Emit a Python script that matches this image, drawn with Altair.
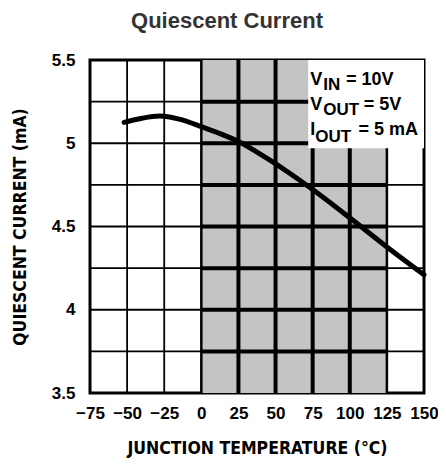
import altair as alt
import pandas as pd

# Curve data
temps = [-52, -40, -28, -15, 0, 12, 25, 43, 60, 75, 100, 125, 150]
currents = [5.125, 5.15, 5.163, 5.145, 5.10, 5.06, 5.01, 4.916, 4.817, 4.722, 4.552, 4.377, 4.21]

x_ticks = [-75, -50, -25, 0, 25, 50, 75, 100, 125, 150]
y_ticks = [3.5, 4.0, 4.5, 5.0, 5.5]
grid_y = [3.75, 4.0, 4.25, 4.5, 4.75, 5.0, 5.25]
shade_range = [0, 125]
note_box = [72, 150, 4.97, 5.5]

# annotation pieces: text, x, y (data units), font size
note_text = ["V", "IN", "= 10V", "V", "OUT", "= 5V", "I", "OUT", "= 5 mA"]
note_x = [73.45, 82.1, 97.4, 73.45, 82.1, 109.4, 73.45, 76.8, 105.9]
note_y = [5.35, 5.32, 5.35, 5.20, 5.17, 5.20, 5.05, 5.007, 5.05]
note_size = [18, 17, 18, 18, 17, 18, 18, 17, 18]

LABEL_FONT = "Liberation Sans, Arial, sans-serif"
TITLE_FONT = "DejaVu Sans Condensed, DejaVu Sans, sans-serif"

xs = alt.Scale(domain=[-75, 150], nice=False, zero=False)
ys = alt.Scale(domain=[3.5, 5.5], nice=False, zero=False)

x_axis = alt.Axis(values=x_ticks, title="JUNCTION TEMPERATURE (°C)",
                  labelPadding=12, titlePadding=18, labelOverlap=False, labelFlush=False)
y_axis = alt.Axis(values=y_ticks, format="~g", title="QUIESCENT CURRENT (mA)",
                  labelPadding=15, titlePadding=22, labelOverlap=False, labelFlush=False)


def X(f):
    return alt.X(f, scale=xs, axis=x_axis)


def Y(f):
    return alt.Y(f, scale=ys, axis=y_axis)


curve_df = pd.DataFrame({"t": temps, "i": currents})

shade_df = pd.DataFrame({"x": [shade_range[0]], "x2": [shade_range[1]], "y": [3.5], "y2": [5.5]})
shade = alt.Chart(shade_df).mark_rect(color="#c4c4c4").encode(
    x=X("x:Q"), x2="x2:Q", y=Y("y:Q"), y2="y2:Q"
)

vlines = pd.DataFrame({
    "x": [-50, -25, 0, 25, 50, 75, 100, 125],
    "w": [1.8, 1.8, 2.5, 4, 4, 4, 4, 2.5],
})
vrules = alt.Chart(vlines).mark_rule(color="black").encode(
    x=X("x:Q"),
    strokeWidth=alt.StrokeWidth("w:Q", scale=None, legend=None),
)

hrows = []
for gy in grid_y:
    hrows.append({"y": gy, "x": -75, "x2": 0, "w": 1.8})
    hrows.append({"y": gy, "x": 0, "x2": 125, "w": 4})
    hrows.append({"y": gy, "x": 125, "x2": 150, "w": 1.8})
hdf = pd.DataFrame(hrows)
hrules = alt.Chart(hdf).mark_rule(color="black").encode(
    y=Y("y:Q"), x=X("x:Q"), x2="x2:Q",
    strokeWidth=alt.StrokeWidth("w:Q", scale=None, legend=None),
)

box_df = pd.DataFrame({"x": [note_box[0]], "x2": [note_box[1]], "y": [note_box[2]], "y2": [note_box[3]]})
box = alt.Chart(box_df).mark_rect(color="white").encode(
    x=X("x:Q"), x2="x2:Q", y=Y("y:Q"), y2="y2:Q"
)

line = alt.Chart(curve_df).mark_line(
    color="black", strokeWidth=5, interpolate="monotone", strokeCap="round"
).encode(x=X("t:Q"), y=Y("i:Q"))

note_df = pd.DataFrame({"text": note_text, "x": note_x, "y": note_y, "s": note_size})
notes = alt.Chart(note_df).mark_text(
    align="left", baseline="alphabetic", font=LABEL_FONT, fontWeight="bold", color="black"
).encode(
    x=X("x:Q"), y=Y("y:Q"), text="text:N",
    size=alt.Size("s:Q", scale=None, legend=None),
)

chart = alt.layer(shade, vrules, hrules, box, line, notes).properties(
    width=334, height=333,
    autosize=alt.AutoSizeParams(type="none"),
    padding={"left": 82, "top": 52, "right": 14, "bottom": 69},
    title=alt.TitleParams("Quiescent Current", font=LABEL_FONT,
                          fontSize=22, fontWeight="bold", color="#333333",
                          anchor="middle", dx=-30, offset=18),
).configure_view(
    stroke="black", strokeWidth=3
).configure_axis(
    labelFont=LABEL_FONT, labelFontSize=17, labelFontWeight="bold", labelColor="black",
    titleFont=TITLE_FONT, titleFontSize=17.5, titleFontWeight="bold", titleColor="black",
    domain=False, ticks=False, grid=False, labelOverlap=False, labelFlush=False,
)

chart.save("out.html", embed_options={"renderer": "svg", "actions": False})
